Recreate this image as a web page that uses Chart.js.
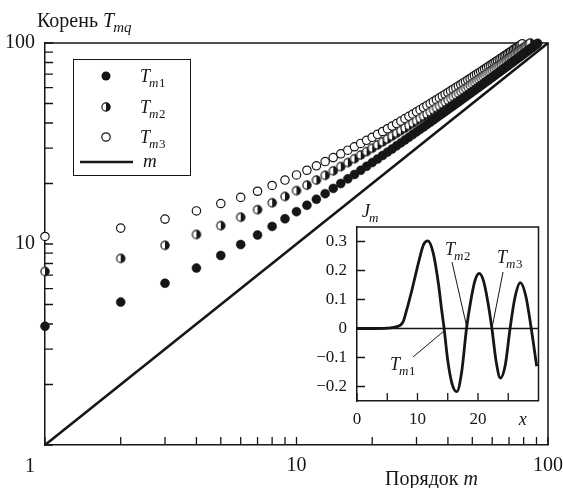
<!DOCTYPE html>
<html>
<head>
<meta charset="utf-8">
<script src="https://cdn.jsdelivr.net/npm/chart.js@4.4.1/dist/chart.umd.min.js"></script>
<style>
  body { margin: 0; background: #fff; }
  #wrap { position: relative; width: 563px; height: 488px; }
  #main { position: absolute; left: 0; top: 0; }
  #inset { position: absolute; left: 300px; top: 195px; }
</style>
</head>
<body>
<div id="wrap">
  <canvas id="main" width="563" height="488"></canvas>
  <canvas id="inset" width="250" height="235"></canvas>
</div>
<script>
// order m
var orders = [1,2,3,4,5,6,7,8,9,10,11,12,13,14,15,16,17,18,19,20,21,22,23,24,25,26,27,28,29,30,
  31,32,33,34,35,36,37,38,39,40,41,42,43,44,45,46,47,48,49,50,51,52,53,54,55,56,57,58,59,60,
  61,62,63,64,65,66,67,68,69,70,71,72,73,74,75,76,77,78,79,80,81,82,83,84,85,86,87,88,89,90,91];

// roots T_m1, T_m2, T_m3
var rootsQ1 = [3.9,5.14,6.38,7.59,8.77,9.94,11.09,12.23,13.35,14.48,15.59,16.70,17.80,18.90,19.99,
  21.09,22.17,23.26,24.34,25.42,26.49,27.57,28.64,29.71,30.78,31.85,32.91,33.98,35.04,36.10,
  37.16,38.22,39.27,40.33,41.39,42.44,43.49,44.55,45.60,46.65,47.70,48.75,49.80,50.84,51.89,
  52.94,53.98,55.03,56.07,57.12,58.16,59.20,60.25,61.29,62.33,63.37,64.41,65.45,66.49,67.53,
  68.57,69.61,70.64,71.68,72.72,73.76,74.79,75.83,76.86,77.90,78.93,79.97,81.00,82.04,83.07,
  84.11,85.14,86.17,87.20,88.24,89.27,90.30,91.33,92.36,93.39,94.43,95.46,96.49,97.52,98.55,99.58];
var rootsQ2 = [7.3,8.48,9.85,11.15,12.34,13.59,14.82,16.04,17.24,18.43,19.62,20.79,21.96,23.12,24.27,
  25.42,26.56,27.70,28.83,29.96,31.10,32.22,33.34,34.45,35.57,36.68,37.79,38.89,40.00,41.10,
  42.20,43.30,44.39,45.49,46.58,47.67,48.76,49.85,50.93,52.02,53.10,54.19,55.27,56.35,57.43,
  58.51,59.58,60.66,61.74,62.81,63.88,64.96,66.03,67.10,68.17,69.24,70.31,71.38,72.44,73.51,
  74.57,75.64,76.70,77.77,78.83,79.89,80.96,82.02,83.08,84.14,85.20,86.26,87.32,88.37,89.43,
  90.49,91.55,92.60,93.66,94.71,95.77,96.82,97.88,98.93,99.98];
var rootsQ3 = [10.9,12.0,13.3,14.6,15.9,17.05,18.3,19.55,20.81,22.05,23.28,24.50,25.71,26.91,28.10,
  29.29,30.46,31.64,32.80,33.96,35.13,36.28,37.44,38.59,39.74,40.89,42.03,43.17,44.31,45.44,
  46.57,47.70,48.83,49.95,51.07,52.19,53.31,54.42,55.54,56.65,57.76,58.87,59.97,61.08,62.18,
  63.29,64.39,65.49,66.59,67.69,68.78,69.88,70.97,72.07,73.16,74.25,75.34,76.43,77.52,78.61,
  79.69,80.78,81.86,82.95,84.03,85.11,86.19,87.28,88.36,89.44,90.51,91.59,92.67,93.75,94.82,
  95.90,96.98,98.05,99.12];

// the line T = m
var lineM = [1, 100];

var logTicks = [1,2,3,4,5,6,7,8,9,10,20,30,40,50,60,70,80,90,100];
var logLabels = [10, 100];

// inset: J_m(x)
var jx = [0,3,5,6.3,7.6,8.2,9.07,10.2,11.0,11.7,12.6,13.45,14.0,14.4,15.0,15.7,16.5,17.3,18.1,
  18.8,19.5,20.2,20.9,21.6,22.3,23.0,23.7,24.5,25.3,26.1,27.0,27.9,28.8,29.7];
var jy = [0,0,0.001,0.005,0.022,0.063,0.132,0.23,0.289,0.302,0.26,0.156,0.063,0,-0.11,-0.19,-0.218,-0.15,0,
  0.095,0.165,0.19,0.165,0.095,0,-0.114,-0.171,-0.127,0,0.106,0.158,0.112,0,-0.13];
var insetXTicks = [0,5,10,15,20,25];
var insetXLabels = [0,10,20];
var insetYTicks = [-0.2,-0.1,0,0.1,0.2,0.3];
var zeros = [14.3, 18.15, 22.35];

var INK = '#161616';
var SERIF = '"Liberation Serif", "DejaVu Serif", serif';

function pts(xs, ys) { return ys.map(function (v, i) { return {x: xs[i], y: v}; }); }

function makeHalfDot(r) {
  var c = document.createElement('canvas');
  var s = Math.ceil(2 * r + 3);
  c.width = c.height = s;
  var g = c.getContext('2d'), m = s / 2;
  g.beginPath(); g.arc(m, m, r, 0, 2 * Math.PI); g.fillStyle = '#fff'; g.fill();
  g.beginPath(); g.arc(m, m, r, -Math.PI / 2, Math.PI / 2); g.closePath(); g.fillStyle = INK; g.fill();
  g.beginPath(); g.arc(m, m, r - 0.3, 0, 2 * Math.PI); g.lineWidth = 1.2; g.strokeStyle = INK; g.stroke();
  return c;
}
var halfDot = makeHalfDot(4.4);

// T with subscript
function drawSym(ctx, x, y, main, subIt, subRm, size) {
  ctx.font = 'italic ' + size + 'px ' + SERIF;
  ctx.fillText(main, x, y);
  var w = ctx.measureText(main).width;
  var s = Math.round(size * 0.74);
  ctx.font = 'italic ' + s + 'px ' + SERIF;
  ctx.fillText(subIt, x + w - 1, y + size * 0.27);
  var w2 = ctx.measureText(subIt).width;
  if (subRm) {
    ctx.font = s + 'px ' + SERIF;
    ctx.fillText(subRm, x + w - 1 + w2 + 0.5, y + size * 0.27);
  }
}

function noOverflow(s) { s.paddingLeft = 0; s.paddingRight = 0; s.paddingTop = 0; s.paddingBottom = 0; }

var mainDecor = {
  id: 'mainDecor',
  beforeDatasetsDraw: function (chart) {
    var ctx = chart.ctx, a = chart.chartArea, x = chart.scales.x, y = chart.scales.y;
    ctx.save();
    ctx.strokeStyle = INK; ctx.lineWidth = 1.5;
    ctx.beginPath();
    ctx.moveTo(a.left, a.top); ctx.lineTo(a.right, a.top); ctx.lineTo(a.right, a.bottom);
    ctx.stroke();
    ctx.lineWidth = 1.3;
    ctx.beginPath();
    x.ticks.forEach(function (t) {
      var px = x.getPixelForValue(t.value);
      ctx.moveTo(px, a.bottom); ctx.lineTo(px, a.bottom - 8);
    });
    y.ticks.forEach(function (t) {
      var py = y.getPixelForValue(t.value);
      ctx.moveTo(a.left, py); ctx.lineTo(a.left + 8, py);
    });
    ctx.stroke();
    ctx.restore();
  },
  afterDraw: function (chart) {
    var ctx = chart.ctx, x = chart.scales.x;
    ctx.save();
    ctx.fillStyle = INK; ctx.strokeStyle = INK;
    ctx.textBaseline = 'alphabetic'; ctx.textAlign = 'left';
    // axis titles
    ctx.font = '20px ' + SERIF;
    ctx.fillText('Корень', 37, 27);
    var w = ctx.measureText('Корень ').width;
    drawSym(ctx, 37 + w, 27, 'T', 'mq', '', 20);
    ctx.font = '20px ' + SERIF;
    ctx.fillText('Порядок', 385, 485);
    w = ctx.measureText('Порядок ').width;
    ctx.font = 'italic 20px ' + SERIF;
    ctx.fillText('m', 385 + w, 485);
    // "1" at the corner
    ctx.font = '20px ' + SERIF;
    ctx.textAlign = 'center';
    ctx.fillText('1', x.getPixelForValue(1) - 15, 472);
    ctx.textAlign = 'left';
    // legend
    ctx.lineWidth = 1;
    ctx.strokeRect(73.5, 59.5, 117, 116);
    var lx = 106;
    ctx.beginPath(); ctx.arc(lx, 76, 4.5, 0, 2 * Math.PI); ctx.fill();
    ctx.drawImage(halfDot, lx - halfDot.width / 2, 107 - halfDot.height / 2);
    ctx.beginPath(); ctx.arc(lx, 137, 4.2, 0, 2 * Math.PI);
    ctx.fillStyle = '#fff'; ctx.fill(); ctx.lineWidth = 1.2; ctx.stroke();
    ctx.fillStyle = INK;
    ctx.lineWidth = 2.6;
    ctx.beginPath(); ctx.moveTo(80, 162); ctx.lineTo(133, 162); ctx.stroke();
    drawSym(ctx, 140, 82, 'T', 'm', '1', 18);
    drawSym(ctx, 140, 113, 'T', 'm', '2', 18);
    drawSym(ctx, 140, 143, 'T', 'm', '3', 18);
    ctx.font = 'italic 19px ' + SERIF;
    ctx.fillText('m', 143, 167);
    ctx.restore();
  }
};

var tickFont = {family: SERIF, size: 20};

new Chart(document.getElementById('main'), {
  type: 'scatter',
  data: {
    datasets: [
      {label: 'Tm1', data: pts(orders, rootsQ1), pointStyle: 'circle', pointRadius: 4.5,
        backgroundColor: INK, borderColor: INK, borderWidth: 0.5, clip: false},
      {label: 'Tm2', data: pts(orders, rootsQ2), pointStyle: halfDot, pointRadius: 4.5, clip: false},
      {label: 'Tm3', data: pts(orders, rootsQ3), pointStyle: 'circle', pointRadius: 4.2,
        backgroundColor: '#fff', borderColor: INK, borderWidth: 1.2, clip: false},
      {label: 'm', data: pts(lineM, lineM), showLine: true, pointRadius: 0,
        borderColor: INK, borderWidth: 2.6, clip: false}
    ]
  },
  options: {
    responsive: false,
    animation: false,
    events: [],
    layout: {padding: {left: 0, right: 15, top: 43, bottom: 0}},
    plugins: {legend: {display: false}, tooltip: {enabled: false}},
    scales: {
      x: {
        type: 'logarithmic', min: 1, max: 100,
        afterFit: function (s) { s.height = 43; noOverflow(s); },
        afterBuildTicks: function (s) { s.ticks = logTicks.map(function (v) { return {value: v}; }); },
        ticks: {
          autoSkip: false, maxRotation: 0, padding: 9, color: INK, font: tickFont,
          callback: function (v) { return logLabels.indexOf(v) >= 0 ? String(v) : ''; }
        },
        grid: {display: false, drawTicks: false},
        border: {display: true, color: INK, width: 1.5}
      },
      y: {
        type: 'logarithmic', min: 1, max: 100,
        afterFit: function (s) { s.width = 45; noOverflow(s); },
        afterBuildTicks: function (s) { s.ticks = logTicks.map(function (v) { return {value: v}; }); },
        ticks: {
          autoSkip: false, padding: 10, color: INK, font: tickFont,
          callback: function (v) { return logLabels.indexOf(v) >= 0 ? String(v) : ''; }
        },
        grid: {display: false, drawTicks: false},
        border: {display: true, color: INK, width: 1.5}
      }
    }
  },
  plugins: [mainDecor]
});

var insetDecor = {
  id: 'insetDecor',
  afterDraw: function (chart) {
    var ctx = chart.ctx, a = chart.chartArea, x = chart.scales.x, y = chart.scales.y;
    ctx.save();
    ctx.strokeStyle = INK; ctx.fillStyle = INK;
    ctx.lineWidth = 1.5;
    ctx.beginPath();
    ctx.moveTo(a.left, a.top); ctx.lineTo(a.right, a.top); ctx.lineTo(a.right, a.bottom);
    ctx.stroke();
    ctx.lineWidth = 1.3;
    ctx.beginPath();
    x.ticks.forEach(function (t) {
      var px = x.getPixelForValue(t.value);
      ctx.moveTo(px, a.bottom); ctx.lineTo(px, a.bottom - 8);
    });
    y.ticks.forEach(function (t) {
      var py = y.getPixelForValue(t.value);
      ctx.moveTo(a.left, py); ctx.lineTo(a.left + 8, py);
    });
    ctx.stroke();
    // leader lines to the zeros
    ctx.lineWidth = 1;
    ctx.beginPath();
    ctx.moveTo(113, 162); ctx.lineTo(x.getPixelForValue(zeros[0]), y.getPixelForValue(-0.01));
    ctx.moveTo(152, 67); ctx.lineTo(x.getPixelForValue(zeros[1]), y.getPixelForValue(0.005));
    ctx.moveTo(203, 77); ctx.lineTo(x.getPixelForValue(zeros[2]), y.getPixelForValue(0.005));
    ctx.stroke();
    ctx.textAlign = 'left'; ctx.textBaseline = 'alphabetic';
    drawSym(ctx, 90, 175, 'T', 'm', '1', 18);
    drawSym(ctx, 145, 60, 'T', 'm', '2', 18);
    drawSym(ctx, 197, 68, 'T', 'm', '3', 18);
    drawSym(ctx, 62, 22, 'J', 'm', '', 18);
    ctx.font = 'italic 18px ' + SERIF;
    ctx.textAlign = 'center';
    ctx.fillText('x', x.getPixelForValue(27.4), a.bottom + 24);
    ctx.restore();
  }
};

var insetFont = {family: SERIF, size: 17};

new Chart(document.getElementById('inset'), {
  type: 'scatter',
  data: {
    datasets: [
      {data: pts([0, 30], [0, 0]), showLine: true, pointRadius: 0, borderColor: INK, borderWidth: 1.4},
      {data: pts(jx, jy), showLine: true, pointRadius: 0, borderColor: INK, borderWidth: 2.8,
        cubicInterpolationMode: 'monotone'}
    ]
  },
  options: {
    responsive: false,
    animation: false,
    events: [],
    layout: {padding: {left: 0, right: 11.5, top: 32, bottom: 0}},
    plugins: {legend: {display: false}, tooltip: {enabled: false}},
    scales: {
      x: {
        type: 'linear', min: 0, max: 30,
        afterFit: function (s) { s.height = 29; noOverflow(s); },
        afterBuildTicks: function (s) { s.ticks = insetXTicks.map(function (v) { return {value: v}; }); },
        ticks: {
          autoSkip: false, maxRotation: 0, padding: 8, color: INK, font: insetFont,
          callback: function (v) { return insetXLabels.indexOf(v) >= 0 ? String(v) : ''; }
        },
        grid: {display: false, drawTicks: false},
        border: {display: true, color: INK, width: 1.5}
      },
      y: {
        type: 'linear', min: -0.25, max: 0.35,
        afterFit: function (s) { s.width = 57; noOverflow(s); },
        afterBuildTicks: function (s) { s.ticks = insetYTicks.map(function (v) { return {value: v}; }); },
        ticks: {
          autoSkip: false, padding: 10, color: INK, font: insetFont,
          callback: function (v) {
            if (v === 0) return '0';
            return (v < 0 ? '\u2212' : '') + Math.abs(v).toFixed(1);
          }
        },
        grid: {display: false, drawTicks: false},
        border: {display: true, color: INK, width: 1.5}
      }
    }
  },
  plugins: [insetDecor]
});
</script>
</body>
</html>
